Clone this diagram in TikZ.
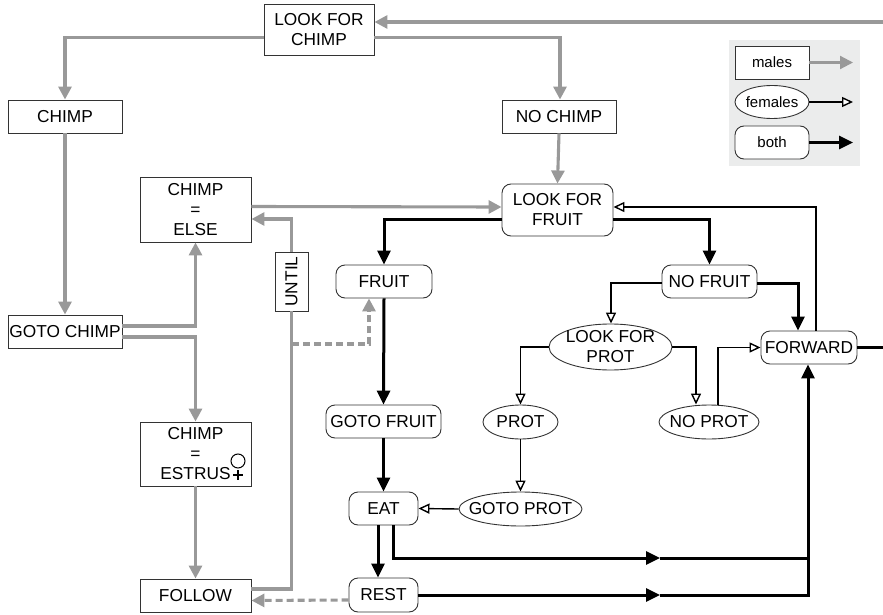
\documentclass[tikz,border=0pt]{standalone}
\usepackage{fontspec}
\setmainfont{Liberation Sans}
\usepackage{graphicx}
\usetikzlibrary{arrows.meta,shapes.geometric,calc}
\definecolor{mgray}{HTML}{999999}
\definecolor{lgbg}{HTML}{EBECEC}
\definecolor{bord}{HTML}{333333}
\begin{document}
\begin{tikzpicture}[x=1pt,y=-1pt,
 base/.style={draw=bord, line width=0.9pt, inner sep=0pt, align=center, font=\fontsize{17.3}{20}\selectfont, fill=white},
 sbox/.style={base, rectangle},
 rbox/.style={base, rectangle, rounded corners=9pt},
 ell/.style={base, ellipse},
 ml/.style={draw=mgray, line width=3.1pt, -{Triangle[length=13pt 0 0,width=13pt 0 0]}},
 mln/.style={draw=mgray, line width=3.1pt},
 fl/.style={draw=black, line width=1.4pt, -{Triangle[open,fill=white,length=11pt 0 0,width=10pt 0 0]}},
 bl/.style={draw=black, line width=3pt, -{Triangle[length=14pt 0 0,width=13pt 0 0]}},
 bln/.style={draw=black, line width=3pt},
 leg/.style={font=\fontsize{15}{18}\selectfont, minimum width=74pt, minimum height=33pt},
]
\useasboundingbox (0,0) rectangle (883,615);

% legend
\fill[lgbg] (729,40) rectangle (860,166);
\node[sbox, leg] (lm) at (772,62.5) {males};
\node[ell, leg] (lf) at (772,102) {\makebox[0pt]{females}};
\node[rbox, leg] (lb) at (772,142.5) {both};
\coordinate (lme) at (853,62.5);
\coordinate (lfe) at (853,102);
\coordinate (lbe) at (853,142.5);
\draw[ml, line width=2.2pt] (lm.east) -- (lme);
\draw[fl] (lf.east) -- (lfe);
\draw[bl] (lb.east) -- (lbe);

% male (gray) nodes
\node[sbox, minimum width=110pt, minimum height=51pt] (lfc) at (319,29.5) {LOOK FOR\\CHIMP};
\node[sbox, minimum width=114pt, minimum height=33pt] (chimp) at (65,116.5) {CHIMP};
\node[sbox, minimum width=114pt, minimum height=33pt] (nochimp) at (559,116.5) {NO CHIMP};
\node[sbox, minimum width=111pt, minimum height=65pt] (else) at (195.5,209.5) {CHIMP\\=\\ELSE};
\node[sbox, minimum width=33pt, minimum height=59pt] (until) at (291.5,281.5) {\rotatebox{90}{UNTIL}};
\node[sbox, minimum width=114pt, minimum height=33pt] (gotochimp) at (65,331.5) {GOTO CHIMP};
\node[sbox, minimum width=111pt, minimum height=64pt] (estrus) at (195.5,454) {CHIMP\\=\\ESTRUS};
\node[sbox, minimum width=111pt, minimum height=33pt] (follow) at (195.5,595.5) {FOLLOW};

% female symbol
\draw[line width=1pt] (238,461) circle (7pt);
\draw[line width=1.6pt] (233,475) -- (243,475) (238,470) -- (238,480);

% both nodes
\node[rbox, minimum width=111pt, minimum height=52pt] (lff) at (557.5,210) {LOOK FOR\\FRUIT};
\node[rbox, minimum width=96pt, minimum height=33pt] (fruit) at (384,281.5) {FRUIT};
\node[rbox, minimum width=115pt, minimum height=33pt] (gotofruit) at (383.5,421.5) {GOTO FRUIT};
\node[rbox, minimum width=69pt, minimum height=33pt] (eat) at (383.5,508.5) {EAT};
\node[rbox, minimum width=69pt, minimum height=34pt] (rest) at (383.5,595) {REST};
\node[rbox, minimum width=95pt, minimum height=33pt] (nofruit) at (709.5,281.5) {NO FRUIT};
\node[rbox, minimum width=96pt, minimum height=33pt] (forward) at (809,347.5) {FORWARD};

% female nodes
\node[ell, minimum width=123pt, minimum height=46pt] (lfp) at (610.5,347) {\makebox[0pt]{LOOK FOR}\\\makebox[0pt]{PROT}};
\node[ell, minimum width=75pt, minimum height=34pt] (prot) at (520.5,422) {\makebox[0pt]{PROT}};
\node[ell, minimum width=100pt, minimum height=34pt] (noprot) at (709,422) {\makebox[0pt]{NO PROT}};
\node[ell, minimum width=123pt, minimum height=34pt] (gotoprot) at (520.5,509) {\makebox[0pt]{GOTO PROT}};

% off-page ends
\coordinate (offtop) at (883,22);
\coordinate (offright) at (883,349);
\coordinate (dsplit) at (292,344);
\coordinate (m1) at (660,558);
\coordinate (m2) at (660,595);
\coordinate (j) at (808,558);

% gray connectors
\draw[ml] (offtop) -- (offtop -| lfc.east);
\draw[ml] ([yshift=-8pt]lfc.west) -| (chimp.north);
\draw[ml] ([yshift=-8pt]lfc.east) -| ([xshift=1pt]nochimp.north);
\draw[ml] (chimp.south) -- (gotochimp.north);
\draw[ml] ([yshift=5.5pt]gotochimp.east) -| (else.south);
\draw[ml] ([yshift=-5.5pt]gotochimp.east) -| (estrus.north);
\draw[ml] (estrus.south) -- (follow.north);
\draw[mln] ([yshift=6.5pt]follow.east) -| (until.south);
\draw[ml] (until.north) |- ([yshift=-9.5pt]else.east);
\draw[ml, dash pattern=on 7pt off 4pt] (dsplit) -| ([xshift=-15pt]fruit.south);
\draw[ml] ([yshift=3pt]else.east) -- ([yshift=3pt]lff.west);
\draw[ml] (nochimp.south) -- (lff.north);
\draw[ml, dash pattern=on 7pt off 4pt] ([yshift=-5pt]rest.west) -- ([yshift=-5pt]follow.east);

% black (both) connectors
\draw[bl] ([yshift=-9pt]lff.west) -| (fruit.north);
\draw[bl] ([yshift=-9pt]lff.east) -| (nofruit.north);
\draw[bl] (fruit.south) -- (gotofruit.north);
\draw[bl] (gotofruit.south) -- (eat.north);
\draw[bl] ([xshift=-5.5pt]eat.south) -- ([xshift=-5.5pt]rest.north);
\draw[bl] ([xshift=9.5pt]eat.south) |- (m1);
\draw[bl] (m1) -| ([xshift=-1pt]forward.south);
\draw[bl] (rest.east) -- (m2);
\draw[bln] (m2) -| (j);
\draw[bl] ([yshift=-1.5pt]nofruit.east) -| ([xshift=-11pt]forward.north);
\draw[bln] (forward.east) -- (offright |- forward.east);

% thin black (female) connectors
\draw[fl] ([xshift=7pt]forward.north) |- ([yshift=3pt]lff.east);
\draw[fl] ([yshift=-1.5pt]nofruit.west) -| ([xshift=0.5pt]lfp.north);
\draw[fl] (lfp.west) -| (prot.north);
\draw[fl] (lfp.east) -| ([xshift=-13pt]noprot.north);
\draw[fl] ([xshift=9pt,yshift=-0.5pt]noprot.north) |- (forward.west);
\draw[fl] (prot.south) -- (gotoprot.north);
\draw[fl] (gotoprot.west) -- (eat.east);
\end{tikzpicture}
\end{document}
